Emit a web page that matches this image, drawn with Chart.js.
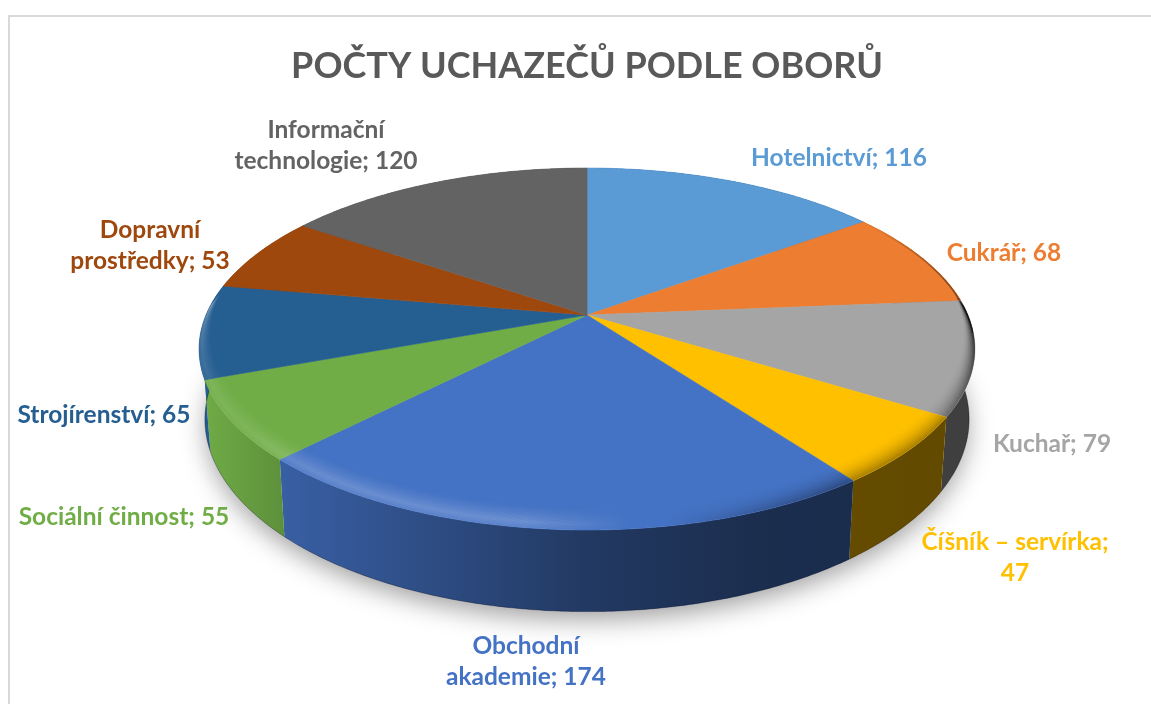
<!DOCTYPE html>
<html lang="cs">
<head>
<meta charset="utf-8">
<title>Počty uchazečů podle oborů</title>
<script src="https://cdn.jsdelivr.net/npm/chart.js@4"></script>
<style>
html,body{margin:0;padding:0;background:#fff;width:1151px;height:704px;overflow:hidden}
#frame{position:absolute;left:8px;top:15px;width:1143px;height:689px;border-left:2px solid #d9d9d9;border-top:2px solid #d9d9d9;box-sizing:border-box}
#wrap{position:absolute;left:0;top:0;width:1151px;height:704px;filter:blur(0.45px)}
</style>
</head>
<body>
<div id="frame"></div>
<div id="wrap"><canvas id="c" width="1151" height="704"></canvas></div>
<script>
const chartTitle = 'POČTY UCHAZEČŮ PODLE OBORŮ';
const categories = ['Hotelnictví','Cukrář','Kuchař','Číšník – servírka','Obchodní akademie','Sociální činnost','Strojírenství','Dopravní prostředky','Informační technologie'];
const values = [116,68,79,47,174,55,65,53,120];
const colors = ['#5B9BD5','#ED7D31','#A5A5A5','#FFC000','#4472C4','#70AD47','#255E91','#9E480E','#636363'];
// label wrapping: 0 = one line, 1 = break after the first word, 2 = break before the value
const labelWrap = [0,0,0,2,1,0,0,1,1];
// label centres in page pixels (layout, not data)
const labelCentres = [[839,158],[1004,253],[1052,444],[1015,558],[526,662],[124,517],[104,415],[150,246],[326,146]];

const VIEW = {aspect:381/215, squash:174.6/215, persp:0.188, bottomScaleX:0.985, bottomScaleY:0.99, depth:68};

function labelLines(i){
  const c = categories[i], v = values[i];
  if(labelWrap[i]===1){const k=c.indexOf(' ');return [c.slice(0,k), c.slice(k+1)+'; '+v];}
  if(labelWrap[i]===2){return [c+';', String(v)];}
  return [c+'; '+v];
}

const pie3d = {
  id:'pie3d',
  beforeDatasetsDraw(chart){
    const ctx = chart.ctx;
    const arcs = chart.getDatasetMeta(0).data;
    const A = arcs[0];
    const cx=A.x, cy=A.y, R=A.outerRadius;
    const P=(ang,r,bottom,dy)=>{
      const t=ang+Math.PI/2, u=Math.sin(t)*r, v=Math.cos(t)*r;
      const w=1+VIEW.persp*v;
      let x=R*VIEW.aspect*u/w, y=-R*VIEW.squash*v/w;
      if(bottom){x*=VIEW.bottomScaleX;y=y*VIEW.bottomScaleY+VIEW.depth/w;}
      return [cx+x, cy+y+(dy||0)];
    };
    const rimPts=(a0,a1,r,bottom,dy)=>{
      const n=Math.max(2,Math.ceil(Math.abs(a1-a0)/0.01)),o=[];
      for(let i=0;i<=n;i++)o.push(P(a0+(a1-a0)*i/n,r,bottom,dy));
      return o;
    };
    const trace=(pts,move)=>pts.forEach((p,i)=>{(i===0&&move)?ctx.moveTo(p[0],p[1]):ctx.lineTo(p[0],p[1]);});
    const full0=-Math.PI/2, full1=Math.PI*1.5;

    ctx.save();
    // soft ground shadow
    ctx.save();
    ctx.shadowColor='rgba(0,0,0,0.38)';ctx.shadowBlur=26;ctx.shadowOffsetY=9;
    ctx.fillStyle='#fff';
    ctx.beginPath();trace(rimPts(full0,full1,0.995,true),true);ctx.closePath();ctx.fill();
    ctx.restore();

    // side walls
    const wallShade=ctx.createLinearGradient(cx-R*VIEW.aspect*1.02,0,cx+R*VIEW.aspect*1.02,0);
    wallShade.addColorStop(0,'rgba(0,0,0,0.0)');
    wallShade.addColorStop(0.11,'rgba(0,0,0,0.17)');
    wallShade.addColorStop(0.3,'rgba(0,0,0,0.33)');
    wallShade.addColorStop(0.5,'rgba(0,0,0,0.5)');
    wallShade.addColorStop(0.72,'rgba(0,0,0,0.6)');
    wallShade.addColorStop(1,'rgba(0,0,0,0.62)');
    arcs.forEach((arc,i)=>{
      const top=rimPts(arc.startAngle,arc.endAngle,1,false);
      const bot=rimPts(arc.startAngle,arc.endAngle,1,true).reverse();
      ctx.beginPath();trace(top,true);trace(bot,false);ctx.closePath();
      ctx.fillStyle=colors[i];ctx.fill();
      ctx.fillStyle=wallShade;ctx.fill();
    });
    // dark line along the very bottom of the wall
    ctx.beginPath();trace(rimPts(0,Math.PI,1,true),true);
    ctx.strokeStyle='rgba(0,0,20,0.3)';ctx.lineWidth=1;ctx.stroke();

    // top faces with the bevel along the rim
    arcs.forEach((arc,i)=>{
      const path=()=>{
        ctx.beginPath();
        const c=P(0,0,false);ctx.moveTo(c[0],c[1]);
        trace(rimPts(arc.startAngle,arc.endAngle,1,false),false);
        ctx.closePath();
      };
      path();
      ctx.fillStyle=colors[i];ctx.fill();
      ctx.strokeStyle=colors[i];ctx.lineWidth=0.6;ctx.stroke();
      ctx.save();
      path();ctx.clip();
      const B=16;
      for(let d=B;d>=0;d-=0.5){
        const f=d/B;
        const strength=(f<0.25)?(0.55+1.8*f):Math.pow((1-f)/0.75,1.5);
        const g=ctx.createLinearGradient(cx-R*VIEW.aspect,0,cx+R*VIEW.aspect,0);
        const light=0.17*strength, dark=0.3*Math.pow(1-f,2.2);
        g.addColorStop(0,`rgba(255,255,255,${light*0.4})`);
        g.addColorStop(0.14,`rgba(255,255,255,${light})`);
        g.addColorStop(0.42,`rgba(255,255,255,${light})`);
        g.addColorStop(0.56,'rgba(255,255,255,0)');
        g.addColorStop(0.60,'rgba(0,0,0,0)');
        g.addColorStop(0.82,`rgba(0,0,0,${dark})`);
        g.addColorStop(1,`rgba(0,0,0,${dark*1.3})`);
        ctx.beginPath();
        trace(rimPts(-0.05,Math.PI+0.05,1-0.002*d,false,-d),true);
        ctx.strokeStyle=g;ctx.lineWidth=1;ctx.stroke();
      }
      // thin shadow on the back right rim
      const g2=ctx.createLinearGradient(cx+R*VIEW.aspect*0.75,0,cx+R*VIEW.aspect*1.02,0);
      g2.addColorStop(0,'rgba(0,0,0,0)');g2.addColorStop(1,'rgba(0,0,0,0.55)');
      ctx.beginPath();trace(rimPts(-0.75,0.1,1,false),true);
      ctx.strokeStyle=g2;ctx.lineWidth=3;ctx.stroke();
      ctx.restore();
    });
    ctx.restore();

    // data labels
    ctx.save();
    ctx.font='bold 24.5px Lato';ctx.textAlign='center';ctx.textBaseline='middle';
    arcs.forEach((arc,i)=>{
      const lines=labelLines(i),[lx,ly]=labelCentres[i],lh=31;
      ctx.fillStyle=colors[i];
      lines.forEach((t,k)=>ctx.fillText(t,lx,ly+(k-(lines.length-1)/2)*lh));
    });
    ctx.restore();
    return false;
  }
};

new Chart(document.getElementById('c'),{
  type:'pie',
  data:{labels:categories,datasets:[{data:values,backgroundColor:colors,borderWidth:0}]},
  plugins:[pie3d],
  options:{
    responsive:false,
    animation:false,
    layout:{padding:{left:23,right:0,top:0,bottom:174}},
    plugins:{
      legend:{display:false},
      tooltip:{enabled:false},
      title:{display:true,text:chartTitle,color:'#595959',
        font:{family:'Lato',size:36,weight:'bold',lineHeight:'44px'},
        padding:{top:44,bottom:12}}
    }
  }
});
</script>
</body>
</html>
